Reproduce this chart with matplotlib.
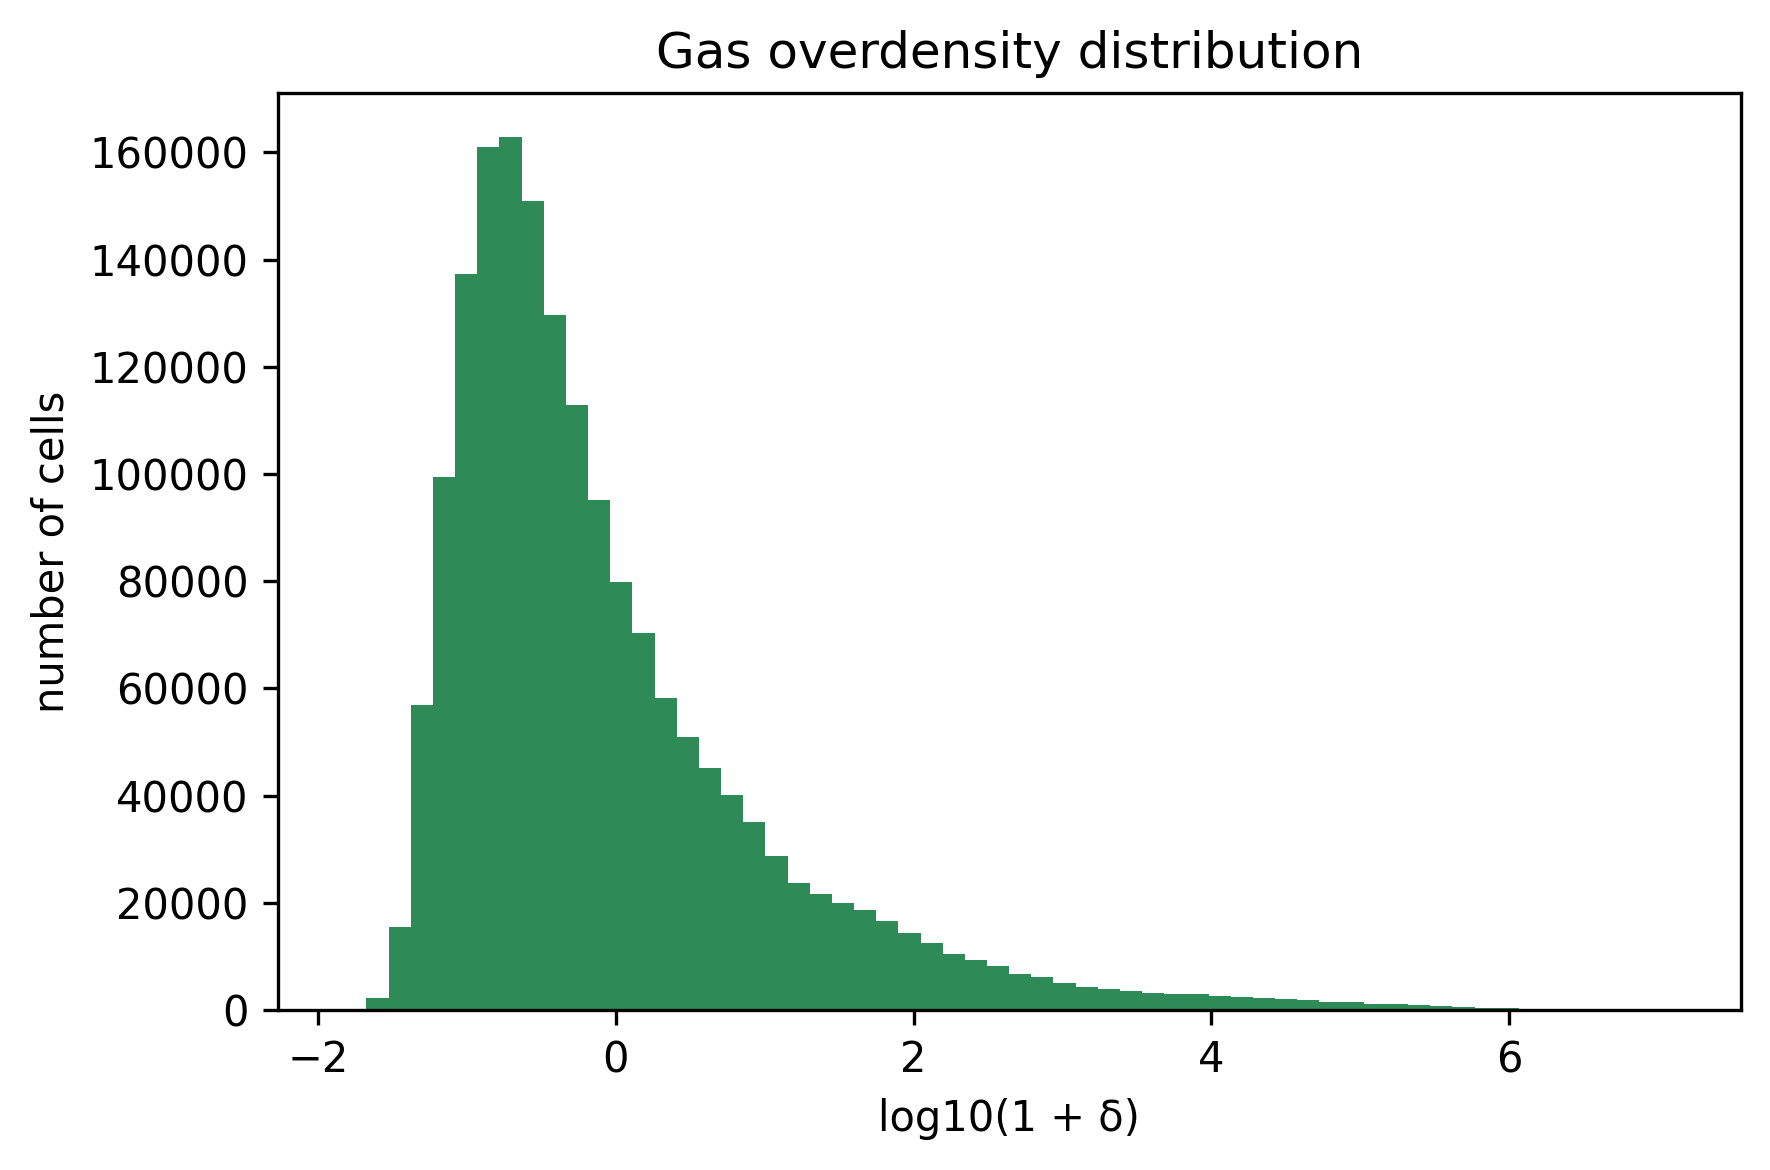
import numpy as np
import matplotlib
matplotlib.use("Agg")
import matplotlib.pyplot as plt

# histogram of log10(1+delta), 60 bins between the data min and max
x_min = -1.825
x_max = 7.108
n_bins = 60

# counts per bin
counts = [
    150, 2180, 15500, 56950, 99450, 137400, 161100, 162900, 151000, 129600,
    112950, 95200, 79900, 70400, 58250, 50970, 45180, 40140, 35100, 28750,
    23710, 21660, 19980, 18670, 16620, 14380, 12510, 10455, 9335, 8215,
    6720, 6160, 5040, 4290, 3920, 3550, 3170, 3000, 2960, 2610,
    2430, 2240, 2050, 1870, 1490, 1480, 1120, 1110, 930, 750,
    560, 380, 360, 250, 180, 120, 80, 45, 20, 6,
]

edges = np.linspace(x_min, x_max, n_bins + 1)
centers = 0.5 * (edges[:-1] + edges[1:])

fig = plt.figure(figsize=(5.9, 3.9), dpi=300)
ax = fig.add_axes([0.1569, 0.1368, 0.8265, 0.7835])

ax.hist(centers, bins=edges, weights=counts, color="seagreen")

ax.set_title("Gas overdensity distribution")
ax.set_xlabel("log10(1 + δ)")
ax.set_ylabel("number of cells")

fig.savefig("out.png", dpi=300)
